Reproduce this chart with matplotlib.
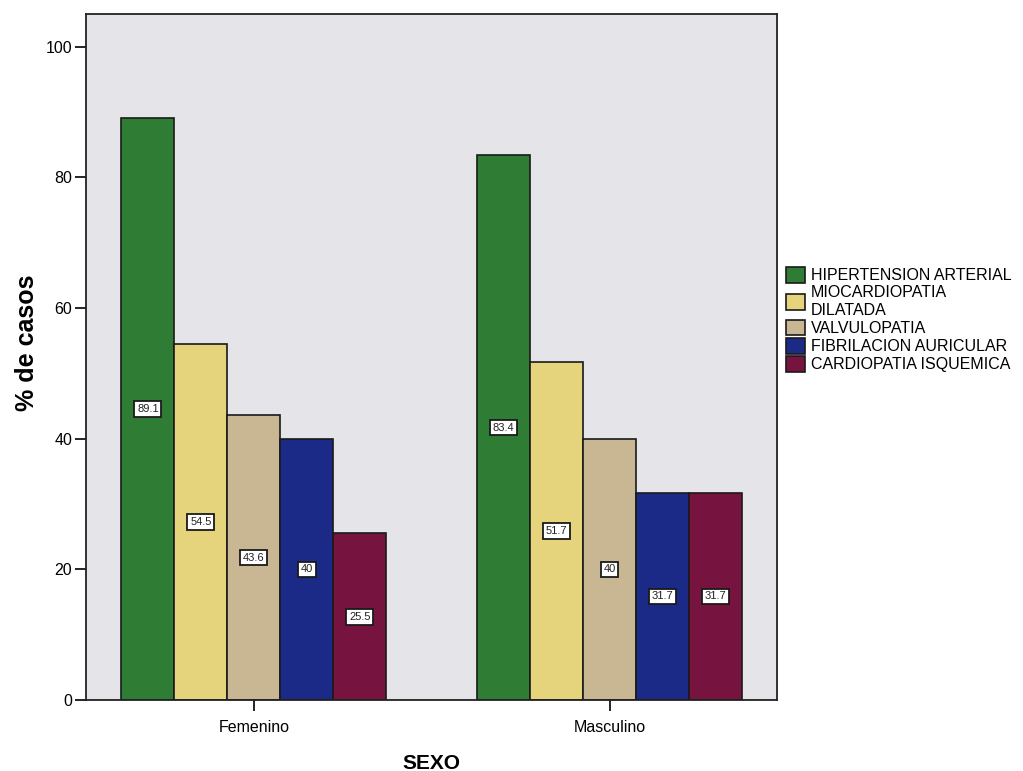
import matplotlib
matplotlib.use("Agg")
import matplotlib.pyplot as plt
import numpy as np

plt.rcParams['font.family'] = ['Liberation Sans', 'DejaVu Sans']

sexo = ["Femenino", "Masculino"]
diagnosticos = [
    "HIPERTENSION ARTERIAL",
    "MIOCARDIOPATIA\nDILATADA",
    "VALVULOPATIA",
    "FIBRILACION AURICULAR",
    "CARDIOPATIA ISQUEMICA",
]
femenino = [89.1, 54.5, 43.6, 40, 25.5]
masculino = [83.4, 51.7, 40, 31.7, 31.7]
colores = ["#2f7d34", "#e6d47c", "#c9b794", "#1b2a86", "#77133f"]

valores = np.array([femenino, masculino])  # rows: sexo, cols: diagnostico

fig = plt.figure(figsize=(10.23, 7.71), dpi=100)
ax = fig.add_axes([0.084, 0.092, 0.676, 0.890])
ax.set_facecolor("#e5e5e9")

x = np.arange(len(sexo))
ancho = 0.149
n = len(diagnosticos)
handles = []
for j, (diag, col) in enumerate(zip(diagnosticos, colores)):
    pos = x + (j - (n - 1) / 2) * ancho
    alturas = valores[:, j]
    b = ax.bar(pos, alturas, width=ancho, color=col, edgecolor="#1a1a1a",
               linewidth=1.2, label=diag, zorder=2)
    handles.append(b)
    for xp, h in zip(pos, alturas):
        txt = f"{h:g}"
        ax.text(xp, h / 2, txt, ha="center", va="center", fontsize=8,
                color="#222222", zorder=3,
                bbox=dict(boxstyle="square,pad=0.25", facecolor="white",
                          edgecolor="#1a1a1a", linewidth=1.3))

ax.set_xlim(-0.472, 1.472)
ax.set_ylim(0, 105)
ax.set_yticks([0, 20, 40, 60, 80, 100])
ax.set_xticks(x)
ax.set_xticklabels(sexo, fontsize=11.5)
ax.tick_params(axis="y", labelsize=11.5, length=8, width=1.2, direction="out", pad=2)
ax.tick_params(axis="x", length=8, width=1.2, direction="out", pad=6)
for s in ax.spines.values():
    s.set_linewidth(1.3)
    s.set_color("#222222")

ax.set_ylabel("% de casos", fontsize=18, fontweight="bold")
ax.yaxis.set_label_coords(-0.068, 0.52)
ax.set_xlabel("SEXO", fontsize=15, fontweight="bold", labelpad=14)

fig.legend(handles=handles, labels=diagnosticos, loc="upper left",
           bbox_to_anchor=(0.762, 0.662), frameon=False, fontsize=11.5,
           handlelength=1.2, handleheight=1.15, handletextpad=0.35,
           labelspacing=0.12, borderaxespad=0.0)

fig.savefig("out.png", dpi=100, facecolor="white")
